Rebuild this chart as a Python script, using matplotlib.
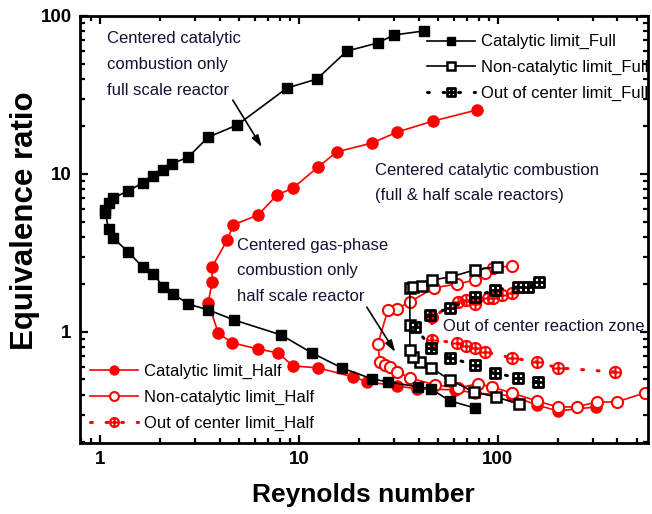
import matplotlib
matplotlib.use('Agg')
import matplotlib.pyplot as plt
from matplotlib.path import Path
from matplotlib.ticker import LogLocator, NullFormatter, FixedLocator, FixedFormatter

plt.rcParams['font.family'] = ['Liberation Sans', 'DejaVu Sans']

# ---------------- data ----------------
re_cat_full = [42.5, 30.0, 24.9, 17.4, 12.3, 8.7, 4.88, 3.49, 2.77, 2.30,
               2.07, 1.85, 1.63, 1.38, 1.16, 1.10, 1.06, 1.06, 1.10, 1.16,
               1.38, 1.63, 1.85, 2.07, 2.33, 2.77, 3.49, 4.71, 8.12, 11.6,
               16.4, 23.3, 28.0, 39.6, 46.1, 57.4, 76.6]
phi_cat_full = [80.4, 75.8, 67.5, 60.0, 39.9, 35.0, 20.4, 17.1, 12.8, 11.6,
                10.6, 9.71, 8.77, 7.80, 7.05, 6.55, 5.92, 5.66, 4.49, 3.94,
                3.21, 2.58, 2.33, 1.93, 1.74, 1.50, 1.38, 1.19, 0.957, 0.736,
                0.592, 0.504, 0.483, 0.449, 0.436, 0.366, 0.330]

re_noncat_full = [127.6, 97.7, 75.7, 57.4, 46.1, 40.5, 37.4, 36.1, 36.1, 36.1,
                  37.4, 41.5, 46.6, 58.0, 76.6, 98.9]
phi_noncat_full = [0.350, 0.388, 0.417, 0.497, 0.592, 0.646, 0.695, 0.769, 1.11, 1.90,
                   1.93, 1.95, 2.13, 2.23, 2.47, 2.58]

re_out_full = [159, 126, 96.6, 76.6, 57.4, 46.1, 38.3, 45.5, 57.4, 76.6,
               96.6, 126, 141.5, 161]
phi_out_full = [0.483, 0.512, 0.550, 0.618, 0.685, 0.792, 1.08, 1.28, 1.42, 1.67,
                1.85, 1.93, 1.93, 2.07]

re_cat_half = [78.4, 47.1, 31.1, 23.3, 15.5, 12.5, 9.33, 7.75, 6.22, 4.66,
               4.35, 3.65, 3.65, 3.49, 3.92, 4.61, 6.22, 7.84, 9.33, 12.5,
               18.7, 22.0, 31.1, 39.2, 60.8, 76.6, 117.5, 157, 200, 311]
phi_cat_half = [25.4, 21.6, 18.4, 15.7, 13.8, 11.1, 8.15, 7.36, 5.50, 4.76,
                3.82, 2.58, 2.07, 1.53, 0.985, 0.852, 0.780, 0.736, 0.609, 0.592,
                0.519, 0.483, 0.455, 0.436, 0.430, 0.411, 0.394, 0.345, 0.316, 0.335]

re_noncat_half = [117.5, 94.4, 86.0, 76.6, 62.2, 47.7, 36.1, 31.1, 28.0, 24.9,
                  25.5, 27.1, 28.7, 31.1, 36.1, 48.2, 63.0, 79.3, 93.3, 117.5,
                  157, 200, 249, 314, 396, 548]
phi_noncat_half = [2.62, 2.54, 2.36, 2.13, 2.01, 1.90, 1.55, 1.40, 1.38, 0.839,
                   0.646, 0.618, 0.600, 0.558, 0.512, 0.462, 0.442, 0.469, 0.449, 0.411,
                   0.366, 0.335, 0.335, 0.360, 0.360, 0.411]

re_out_half = [387, 200, 157, 117.5, 86.0, 76.6, 69.1, 62.2, 46.6, 46.6,
               63.0, 69.1, 76.6, 89.1, 94.4, 104.7, 117.5]
phi_out_half = [0.558, 0.592, 0.646, 0.685, 0.747, 0.792, 0.815, 0.852, 0.890, 1.24,
                1.55, 1.59, 1.50, 1.64, 1.64, 1.71, 1.77]

tick_vals = [1, 10, 100]
tick_labels = ['1', '10', '100']

# ---------------- markers ----------------
sq_plus = Path([(-1, -1), (1, -1), (1, 1), (-1, 1), (-1, -1),
                (0, -1), (0, 1), (-1, 0), (1, 0)],
               [Path.MOVETO, Path.LINETO, Path.LINETO, Path.LINETO, Path.CLOSEPOLY,
                Path.MOVETO, Path.LINETO, Path.MOVETO, Path.LINETO])
cross = Path([(0, -1), (0, 1), (-1, 0), (1, 0)],
             [Path.MOVETO, Path.LINETO, Path.MOVETO, Path.LINETO])
circ_plus = Path.make_compound_path(Path.unit_circle(), cross)

RED = '#ff0000'
dot_style = (0, (0.6, 4.5))

fig = plt.figure(figsize=(6.52, 5.14), dpi=100)
ax = fig.add_axes([0.1227, 0.1381, 0.8712, 0.8308])
ax.set_xscale('log')
ax.set_yscale('log')

# red (half) series first
h_cat_half, = ax.plot(re_cat_half, phi_cat_half, '-', color=RED, lw=1.2,
                      marker='o', ms=8, mfc=RED, mec=RED, label='Catalytic limit_Half')
h_noncat_half, = ax.plot(re_noncat_half, phi_noncat_half, '-', color=RED, lw=1.2,
                         marker='o', ms=8, mfc='white', mec=RED, mew=1.5,
                         label='Non-catalytic limit_Half')
h_out_half, = ax.plot(re_out_half, phi_out_half, linestyle=dot_style, color=RED, lw=2.2,
                      dash_capstyle='round', marker=circ_plus, ms=8, mfc='none',
                      mec=RED, mew=1.5, label='Out of center limit_Half')

# black (full) series
h_cat_full, = ax.plot(re_cat_full, phi_cat_full, '-', color='k', lw=1.2,
                      marker='s', ms=7.5, mfc='k', mec='k', label='Catalytic limit_Full')
h_noncat_full, = ax.plot(re_noncat_full, phi_noncat_full, '-', color='k', lw=1.2,
                         marker='s', ms=7, mfc='white', mec='k', mew=1.8,
                         label='Non-catalytic limit_Full')
h_out_full, = ax.plot(re_out_full, phi_out_full, linestyle=dot_style, color='k', lw=2.2,
                      dash_capstyle='round', marker=sq_plus, ms=7, mfc='none',
                      mec='k', mew=2.0, label='Out of center limit_Full')

ax.set_xlim(0.79, 570)
ax.set_ylim(0.198, 100)

# ticks
for axis in (ax.xaxis, ax.yaxis):
    axis.set_major_locator(FixedLocator(tick_vals))
    axis.set_major_formatter(FixedFormatter(tick_labels))
    axis.set_minor_locator(LogLocator(base=10, subs=range(2, 10), numticks=20))
    axis.set_minor_formatter(NullFormatter())
ax.tick_params(which='both', direction='in', top=True, right=True, width=1.6)
ax.tick_params(which='major', length=6, labelsize=13.5, pad=6)
ax.tick_params(which='minor', length=3.5)
for lab in ax.get_xticklabels() + ax.get_yticklabels():
    lab.set_fontweight('bold')
for s in ax.spines.values():
    s.set_linewidth(2.0)

ax.set_xlabel('Reynolds number', fontsize=19, fontweight='bold', va='center')
ax.set_ylabel('Equivalence ratio', fontsize=22.5, fontweight='bold', va='center')
ax.xaxis.set_label_coords(0.498, -0.122)
ax.yaxis.set_label_coords(-0.096, 0.52)

# legends
FS = 12
leg1 = ax.legend(handles=[h_cat_full, h_noncat_full, h_out_full], loc='upper left',
                 bbox_to_anchor=(0.611, 0.957), frameon=False, fontsize=FS,
                 handlelength=2.9, handletextpad=0.35, labelspacing=0.65,
                 borderpad=0, borderaxespad=0, markerscale=0.8, numpoints=1)
ax.add_artist(leg1)
ax.legend(handles=[h_cat_half, h_noncat_half, h_out_half], loc='upper left',
          bbox_to_anchor=(0.0176, 0.186), frameon=False, fontsize=FS,
          handlelength=2.9, handletextpad=0.35, labelspacing=0.65,
          borderpad=0, borderaxespad=0, markerscale=0.8, numpoints=1)

# annotations
TXT = '#111133'
ax.text(0.0475, 0.886, 'Centered catalytic\ncombustion only\nfull scale reactor',
        transform=ax.transAxes, fontsize=FS, color=TXT, va='center', ha='left',
        linespacing=1.9)
ax.text(0.519, 0.609, 'Centered catalytic combustion\n(full & half scale reactors)',
        transform=ax.transAxes, fontsize=FS, color=TXT, va='center', ha='left',
        linespacing=1.9)
ax.text(0.276, 0.403, 'Centered gas-phase\ncombustion only\nhalf scale reactor',
        transform=ax.transAxes, fontsize=FS, color=TXT, va='center', ha='left',
        linespacing=1.9)
ax.text(0.639, 0.272, 'Out of center reaction zone',
        transform=ax.transAxes, fontsize=FS, color=TXT, va='center', ha='left')

arrow_kw = dict(arrowstyle='-|>,head_length=0.7,head_width=0.22', color='k', lw=1.2,
                shrinkA=0, shrinkB=0)
ax.annotate('', xy=(0.320, 0.693), xytext=(0.269, 0.803), xycoords='axes fraction',
            arrowprops=arrow_kw)
ax.annotate('', xy=(0.555, 0.213), xytext=(0.505, 0.318), xycoords='axes fraction',
            arrowprops=arrow_kw)

fig.savefig('out.png', dpi=100)
